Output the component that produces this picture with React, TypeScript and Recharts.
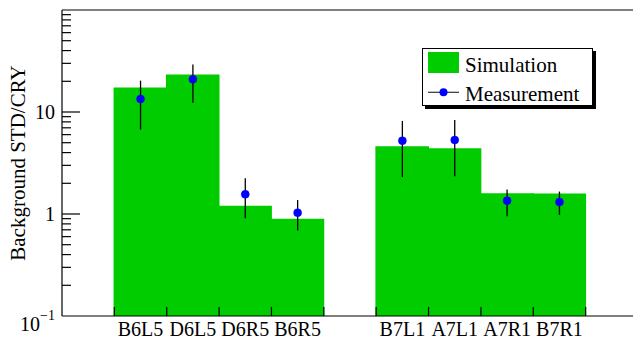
import React from 'react';
import { ComposedChart, Bar, Line, XAxis, YAxis, ErrorBar, Legend, ReferenceLine } from 'recharts';

const FONT = 'Liberation Serif, Times New Roman, Times, serif';

const categories = ['gap0', 'B6L5', 'D6L5', 'D6R5', 'B6R5', 'gap1', 'B7L1', 'A7L1', 'A7R1', 'B7R1', 'gap2'];
const simulation = [null, 17.1, 22.9, 1.18, 0.88, null, 4.54, 4.34, 1.57, 1.56, null];
const measurement = [null, 13.4, 20.9, 1.56, 1.03, null, 5.23, 5.31, 1.35, 1.31, null];
const measLow = [null, 6.7, 12.3, 0.91, 0.69, null, 2.3, 2.34, 0.95, 0.98, null];
const measHigh = [null, 20.3, 29.2, 2.24, 1.37, null, 8.18, 8.36, 1.74, 1.66, null];

const yLabelTicks = [0.1, 1, 10];
const yMinorTicks = [0.2, 0.3, 0.4, 0.5, 0.6, 0.7, 0.8, 0.9, 2, 3, 4, 5, 6, 7, 8, 9, 20, 30, 40, 50, 60, 70, 80, 90];
const yAllTicks = [...yLabelTicks, ...yMinorTicks].sort((a, b) => a - b);

const data = categories.map((c, i) => ({
  cat: c,
  sim: simulation[i],
  meas: measurement[i],
  err:
    measurement[i] == null
      ? undefined
      : [(measurement[i] as number) - (measLow[i] as number), (measHigh[i] as number) - (measurement[i] as number)],
}));

const txt = { fontFamily: FONT, fill: '#000' } as const;

const YTick = (props: any) => {
  const { x, y, payload } = props;
  const v = payload.value;
  const major = yLabelTicks.includes(v);
  const len = major ? 18 : 9;
  return (
    <g>
      {v !== 0.1 && <line x1={x} y1={y} x2={x + len} y2={y} stroke="#000" strokeWidth={1.2} />}
      {v === 0.1 && (
        <text x={x - 7} y={y + 15} textAnchor="end" fontSize={20} style={txt}>
          <tspan>10</tspan>
          <tspan dy={-11} fontSize={14}>−1</tspan>
        </text>
      )}
      {major && v !== 0.1 && (
        <text x={x - 7} y={y + 7} textAnchor="end" fontSize={20} style={txt}>
          {String(v)}
        </text>
      )}
    </g>
  );
};

const XTick = (props: any) => {
  const { x, y, payload, index, width, visibleTicksCount } = props;
  const half =
    payload && typeof payload.offset === 'number' && payload.offset > 0
      ? payload.offset
      : width / (visibleTicksCount || categories.length) / 2;
  const label = String(payload.value);
  const isGap = label.startsWith('gap');
  return (
    <g>
      {index > 0 && <line x1={x - half} y1={y} x2={x - half} y2={y - 9} stroke="#000" strokeWidth={1.2} />}
      {!isGap && (
        <text x={x} y={y + 20} textAnchor="middle" fontSize={20} style={txt}>
          {label}
        </text>
      )}
    </g>
  );
};

const YTitle = (props: any) => {
  const vb = props.viewBox || { y: 10, height: 306 };
  const cy = vb.y + vb.height / 2;
  return (
    <text transform={`translate(25, ${cy}) rotate(-90)`} textAnchor="middle" fontSize={21} style={txt}>
      Background STD/CRY
    </text>
  );
};

const LegendBox = () => (
  <svg width={175} height={62} style={{ display: 'block' }}>
    <rect x={3} y={3} width={171} height={58} fill="#000" />
    <rect x={0.5} y={0.5} width={170} height={57} fill="#fff" stroke="#000" strokeWidth={1} />
    <rect x={6} y={4} width={31} height={21} fill="#00cc00" />
    <text x={43} y={24.3} fontSize={21} style={txt}>Simulation</text>
    <line x1={6} y1={44.3} x2={37} y2={44.3} stroke="#333" strokeWidth={1.2} />
    <circle cx={21.5} cy={44.3} r={4} fill="#0000ff" />
    <text x={43} y={53} fontSize={21} style={txt}>Measurement</text>
  </svg>
);

export default function App() {
  return (
    <div style={{ position: 'fixed', left: 0, top: 0, width: 633, height: 339, overflow: 'hidden', background: '#fff' }}>
      <ComposedChart
        width={640}
        height={339}
        data={data}
        margin={{ top: 10, right: 2, left: 0, bottom: 0 }}
        barCategoryGap={0}
        barGap={0}
      >
        <XAxis
          xAxisId="cat"
          dataKey="cat"
          type="category"
          interval={0}
          height={23}
          axisLine={{ stroke: '#000', strokeWidth: 1.2 }}
          tickLine={false}
          tickSize={0}
          tickMargin={0}
          tick={<XTick />}
        />
        <YAxis
          yAxisId="main"
          scale="log"
          domain={[0.1, 100]}
          allowDataOverflow
          ticks={yAllTicks}
          interval={0}
          width={62}
          tickSize={0}
          tickMargin={0}
          tickLine={false}
          axisLine={{ stroke: '#000', strokeWidth: 1.2 }}
          tick={<YTick />}
          label={{ content: <YTitle /> }}
        />
        <ReferenceLine yAxisId="main" xAxisId="cat" y={100} stroke="#000" strokeWidth={1.2} />
        <Bar
          xAxisId="cat"
          yAxisId="main"
          dataKey="sim"
          fill="#00cc00"
          stroke="#00cc00"
          strokeWidth={1.6}
          isAnimationActive={false}
        />
        <Line
          xAxisId="cat"
          yAxisId="main"
          dataKey="meas"
          stroke="none"
          dot={{ r: 4, fill: '#0000ff', stroke: '#0000ff', strokeWidth: 0.5 }}
          activeDot={false}
          isAnimationActive={false}
        >
          <ErrorBar dataKey="err" width={0} stroke="#000" strokeWidth={1.3} direction="y" />
        </Line>
        <Legend
          layout="vertical"
          align="center"
          verticalAlign="middle"
          wrapperStyle={{ left: 422, top: 48, width: 175, height: 62 }}
          content={() => <LegendBox />}
        />
      </ComposedChart>
    </div>
  );
}
